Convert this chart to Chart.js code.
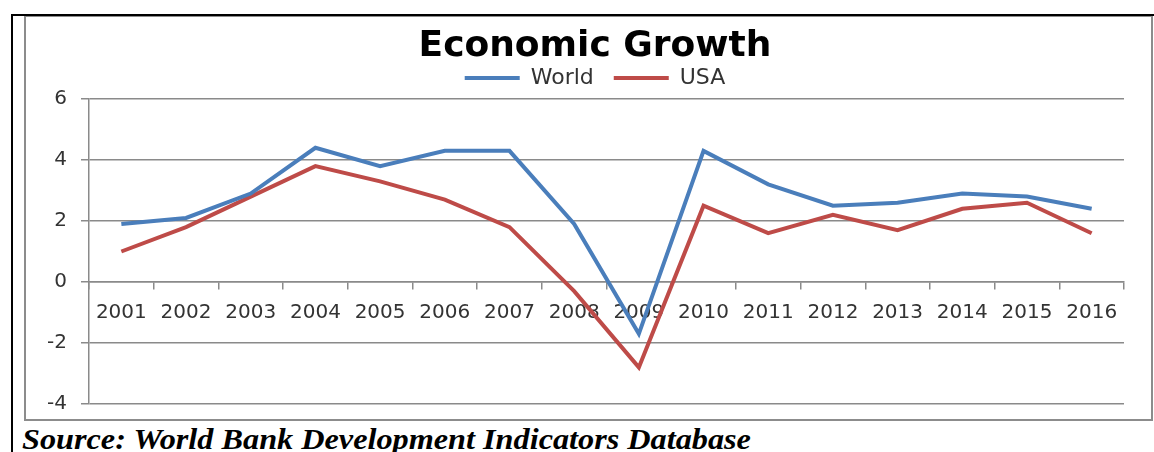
<!DOCTYPE html>
<html>
<head>
<meta charset="utf-8">
<script src="https://cdn.jsdelivr.net/npm/chart.js@4.4.1/dist/chart.umd.min.js"></script>
<style>
  body { margin: 0; background: #fff; width: 1154px; height: 452px; overflow: hidden; position: relative; }
  #frame { position: absolute; left: 11px; top: 14px; width: 1150px; height: 450px; border-top: 2px solid #000; border-left: 2px solid #000; }
  #box { position: absolute; left: 24px; top: 16px; width: 1125px; height: 402px; border: 2px solid #8c8c8c; border-top-width: 1px; }
  #wrap { position: absolute; left: 26px; top: 17px; width: 1125px; height: 402px; }
  #source { position: absolute; left: 22px; top: 422px; font: bold italic 30px "Liberation Serif", serif; color: #000; white-space: nowrap; transform: scaleX(1.075); transform-origin: left top; }
</style>
</head>
<body>
<div id="frame"></div>
<div id="box"></div>
<div id="wrap"><canvas id="chart"></canvas></div>
<div id="source">Source: World Bank Development Indicators Database</div>
<script>
const years = ['2001', '2002', '2003', '2004', '2005', '2006', '2007', '2008',
  '2009', '2010', '2011', '2012', '2013', '2014', '2015', '2016'];
const world = [1.9, 2.1, 2.9, 4.4, 3.8, 4.3, 4.3, 1.9, -1.7, 4.3, 3.2, 2.5, 2.6, 2.9, 2.8, 2.4];
const usa = [1.0, 1.8, 2.8, 3.8, 3.3, 2.7, 1.8, -0.3, -2.8, 2.5, 1.6, 2.2, 1.7, 2.4, 2.6, 1.6];

const gridGray = '#8a8a8a';
const textGray = '#333';

const ctx = document.getElementById('chart');

new Chart(ctx, {
  type: 'line',
  data: {
    labels: years,
    datasets: [
      {
        label: 'World',
        data: world,
        borderColor: '#4a7ebb',
        backgroundColor: '#4a7ebb',
        borderWidth: 4,
        pointRadius: 0,
        tension: 0
      },
      {
        label: 'USA',
        data: usa,
        borderColor: '#be4b48',
        backgroundColor: '#be4b48',
        borderWidth: 4,
        pointRadius: 0,
        tension: 0
      }
    ]
  },
  options: {
    responsive: true,
    maintainAspectRatio: false,
    animation: false,
    layout: { padding: { left: 13, right: 0, top: 0, bottom: 3 } },
    plugins: {
      title: {
        display: true,
        text: 'Economic Growth',
        color: '#000',
        font: { family: 'DejaVu Sans', size: 36, weight: 'bold', lineHeight: 1 },
        padding: { top: 12, bottom: -18 }
      },
      legend: {
        labels: {
          color: textGray,
          font: { family: 'DejaVu Sans', size: 22 },
          boxWidth: 55,
          boxHeight: 4,
          padding: 20,
          generateLabels: (chart) =>
            Chart.defaults.plugins.legend.labels.generateLabels(chart).map(l => ({ ...l, lineWidth: 0 }))
        }
      },
      tooltip: { enabled: false }
    },
    scales: {
      x: {
        position: { y: 0 },
        offset: true,
        grid: { offset: true, drawOnChartArea: false, drawTicks: true, tickLength: 7, color: gridGray, lineWidth: 1.5 },
        border: { color: gridGray, width: 1.5 },
        ticks: { color: textGray, font: { family: 'DejaVu Sans', size: 20 }, padding: 12, maxRotation: 0, autoSkip: false }
      },
      y: {
        min: -4,
        max: 6,
        ticks: { stepSize: 2, color: textGray, font: { family: 'DejaVu Sans', size: 20 }, padding: 14 },
        grid: { color: gridGray, lineWidth: 1.5, tickLength: 8 },
        border: { color: gridGray, width: 1.5 },
        afterFit: (scale) => {
          scale.width = 50;
          scale.paddingTop = 0;
          scale.paddingBottom = 15;
        }
      },
      // empty right-hand axis, only keeps the gap between plot and frame
      yRight: {
        position: 'right',
        display: true,
        ticks: { display: false },
        grid: { display: false },
        border: { display: false },
        afterFit: (scale) => { scale.width = 27; }
      }
    }
  }
});
</script>
</body>
</html>
